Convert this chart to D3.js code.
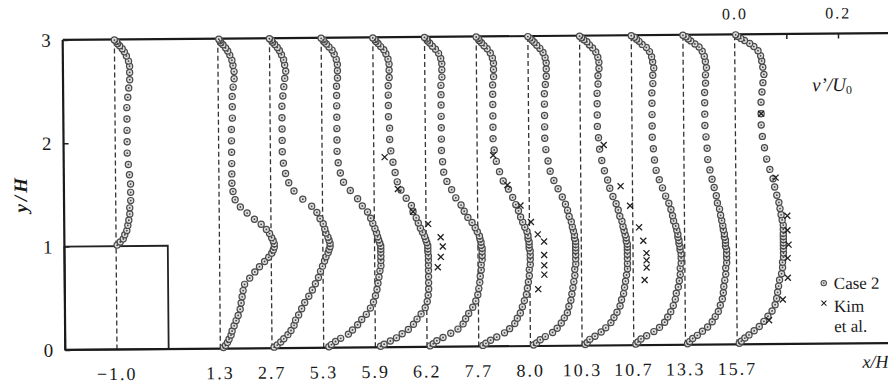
<!DOCTYPE html>
<html>
<head>
<meta charset="utf-8">
<script src="https://cdn.jsdelivr.net/npm/d3@7"></script>
<style>
  body { margin: 0; background: #fff; }
  svg text { font-family: "Liberation Serif", "DejaVu Serif", "Times New Roman", serif !important; fill: #1a1a1a; }
</style>
</head>
<body>
<div id="chart"></div>
<script>
// x/H stations, left to right
const stations = ["\u22121.0", "1.3", "2.7", "5.3", "5.9", "6.2", "7.7", "8.0", "10.3", "10.7", "13.3", "15.7"];

// y/H of the computed points (same for every station)
const yGrid = [0.01, 0.03, 0.06, 0.09, 0.13, 0.17, 0.22, 0.27, 0.32, 0.38, 0.44, 0.50, 0.56, 0.62, 0.68, 0.74, 0.79, 0.84,
  0.88, 0.92, 0.95, 0.98, 1.01, 1.04, 1.07, 1.11, 1.15, 1.20, 1.25, 1.31, 1.37, 1.44, 1.52, 1.60, 1.69, 1.79, 1.90, 2.01,
  2.12, 2.23, 2.34, 2.44, 2.53, 2.61, 2.68, 2.74, 2.79, 2.84, 2.88, 2.91, 2.94, 2.96, 2.98, 2.995];

// Case 2, v'/U0 at each yGrid point (null = inside the block)
const case2_m10 = [null, null, null, null, null, null, null, null, null, null, null, null, null, null, null, null, null, null, null, null, null, null,
  .002, .008, .014, .017, .021, .023, .025, .027, .027, .029, .029, .029, .027, .025, .023, .023, .023, .023, .023, .025, .027, .029, .029, .029, .027, .023, .019, .015, .010, .006, .004, 0];
const case2_13 = [.006, .010, .014, .017, .021, .023, .027, .031, .035, .039, .041, .043, .045, .048, .058, .068, .077, .087, .095, .101, .104, .106, .106, .104, .101, .097, .091, .081, .068, .054, .041, .031, .027, .025, .025, .025, .025, .025, .025, .027, .027, .027, .029, .031, .031, .029, .027, .023, .019, .015, .010, .006, .004, .002];
const case2_27 = [.004, .010, .017, .023, .031, .037, .043, .046, .052, .058, .064, .072, .079, .085, .091, .095, .099, .103, .106, .110, .112, .114, .114, .112, .110, .106, .104, .101, .095, .089, .079, .062, .045, .035, .029, .025, .023, .023, .023, .023, .023, .025, .027, .029, .031, .029, .027, .023, .019, .015, .010, .006, .004, 0];
const case2_53 = [.010, .015, .023, .033, .048, .056, .066, .074, .083, .091, .097, .101, .104, .106, .108, .110, .112, .112, .112, .112, .112, .112, .110, .108, .106, .104, .101, .097, .093, .087, .077, .068, .054, .041, .035, .031, .029, .029, .029, .029, .029, .029, .029, .031, .031, .031, .029, .025, .021, .015, .010, .006, .004, 0];
const case2_59 = [.010, .017, .029, .041, .052, .064, .074, .081, .089, .097, .101, .103, .104, .104, .104, .104, .104, .104, .104, .103, .103, .103, .101, .099, .097, .093, .089, .085, .081, .075, .072, .062, .052, .045, .041, .037, .033, .031, .031, .029, .029, .029, .029, .031, .031, .031, .029, .025, .021, .015, .010, .006, .004, 0];
const case2_62 = [.006, .012, .019, .031, .046, .060, .070, .075, .081, .089, .095, .099, .101, .103, .104, .106, .106, .108, .108, .108, .108, .106, .106, .104, .103, .099, .095, .089, .081, .074, .068, .058, .050, .041, .035, .033, .031, .031, .031, .031, .031, .031, .031, .033, .033, .033, .031, .027, .021, .015, .010, .006, .004, 0];
const case2_77 = [.008, .014, .023, .035, .050, .060, .070, .075, .081, .085, .089, .093, .095, .097, .099, .099, .101, .101, .101, .101, .099, .099, .099, .097, .097, .095, .091, .087, .083, .079, .074, .068, .060, .050, .043, .037, .033, .031, .031, .031, .031, .031, .031, .033, .033, .033, .031, .027, .021, .015, .010, .006, .004, 0];
const case2_80 = [.006, .012, .019, .029, .043, .052, .060, .066, .072, .075, .079, .081, .083, .085, .087, .087, .089, .089, .089, .089, .089, .089, .089, .087, .087, .085, .083, .081, .077, .074, .070, .064, .056, .048, .041, .037, .033, .031, .031, .031, .031, .031, .033, .035, .035, .035, .033, .029, .023, .017, .012, .008, .004, 0];
const case2_103 = [.006, .010, .015, .025, .037, .046, .056, .062, .068, .074, .077, .081, .083, .085, .087, .089, .089, .089, .089, .089, .089, .089, .087, .087, .085, .083, .081, .079, .075, .072, .068, .062, .056, .052, .046, .041, .037, .035, .033, .033, .033, .033, .035, .035, .037, .037, .035, .031, .025, .019, .014, .008, .004, 0];
const case2_107 = [.004, .008, .014, .025, .039, .050, .060, .066, .072, .077, .081, .083, .087, .089, .091, .091, .093, .093, .093, .091, .091, .089, .089, .087, .087, .085, .083, .079, .077, .074, .070, .064, .058, .052, .046, .043, .041, .039, .039, .039, .039, .039, .041, .041, .043, .041, .039, .035, .029, .021, .015, .010, .006, 0];
const case2_133 = [.004, .008, .014, .023, .033, .043, .052, .058, .064, .068, .072, .074, .075, .077, .079, .079, .081, .081, .081, .081, .079, .079, .079, .077, .077, .075, .074, .072, .070, .068, .064, .062, .058, .054, .050, .046, .045, .043, .041, .041, .041, .041, .043, .043, .045, .043, .041, .037, .031, .023, .015, .010, .006, 0];
const case2_157 = [.004, .008, .015, .023, .033, .043, .052, .060, .068, .074, .077, .079, .081, .083, .087, .089, .089, .091, .091, .091, .091, .091, .091, .091, .091, .091, .091, .089, .087, .085, .083, .079, .075, .072, .066, .060, .056, .052, .050, .050, .050, .052, .054, .056, .054, .052, .050, .045, .037, .029, .019, .012, .006, .002];

// Kim et al. (x marks)
const kimY_59 = [1.84, 1.53, 1.31, 1.19, 1.06, 0.97, 0.87, 0.77];
const kimV_59 = [.021, .046, .075, .104, .128, .132, .128, .122];
const kimY_77 = [1.85, 1.56, 1.36, 1.20, 1.08, 1.01, 0.88, 0.78, 0.69, 0.55];
const kimV_77 = [.031, .058, .083, .103, .116, .128, .128, .128, .128, .116];
const kimY_103 = [1.94, 1.54, 1.35, 1.14, 1.01, 0.89, 0.82, 0.75, 0.63];
const kimV_103 = [.045, .077, .095, .112, .120, .126, .126, .126, .122];
const kimY_157 = [2.23, 1.61, 1.24, 1.10, 0.96, 0.83, 0.64, 0.43, 0.23];
const kimV_157 = [.050, .077, .099, .099, .101, .099, .099, .089, .062];

const yTicks = [0, 1, 2, 3];
const vTicks = [0, 0.1, 0.2];

const case2 = [case2_m10, case2_13, case2_27, case2_53, case2_59, case2_62, case2_77, case2_80, case2_103, case2_107, case2_133, case2_157];
const kim = [
  { st: 4, y: kimY_59, v: kimV_59 },
  { st: 6, y: kimY_77, v: kimV_77 },
  { st: 8, y: kimY_103, v: kimV_103 },
  { st: 11, y: kimY_157, v: kimV_157 }
];

const SERIF = "'Liberation Serif', 'DejaVu Serif', serif";
const W = 888, H = 386;
const svg = d3.select("#chart").append("svg").attr("width", W).attr("height", H)
  .attr("font-family", SERIF);
// the printed figure sits slightly tilted
const g = svg.append("g").attr("transform", "rotate(-0.48 476 195)");

// one slot per station, the -1.0 station leaves one empty slot after it
const slotX = d3.scaleLinear().domain([-1, 15]).range([64, 891]);
const y = d3.scaleLinear().domain([0, 3]).range([346.5, 36.5]);
const vScale = d3.scaleLinear().domain([0, 0.1]).range([0, slotX(1) - slotX(0)]);
const slotOf = i => i === 0 ? 0 : i + 1;
const xAt = (i, v) => slotX(slotOf(i)) + vScale(v);

// dashed baselines
g.append("g").selectAll("line").data(stations).join("line")
  .attr("x1", (d, i) => xAt(i, 0)).attr("x2", (d, i) => xAt(i, 0))
  .attr("y1", y(0)).attr("y2", y(3))
  .attr("stroke", "#333").attr("stroke-width", 1.3).attr("stroke-dasharray", "5,3");

// step block
g.append("rect")
  .attr("x", slotX(-1)).attr("y", y(1))
  .attr("width", slotX(1) - slotX(-1)).attr("height", y(0) - y(1))
  .attr("fill", "none").attr("stroke", "#222").attr("stroke-width", 1.8);

// frame
const frame = g.append("g").attr("stroke", "#1a1a1a").attr("stroke-width", 2.2);
frame.append("line").attr("x1", slotX(-1)).attr("x2", 900).attr("y1", y(3)).attr("y2", y(3));
frame.append("line").attr("x1", slotX(-1)).attr("x2", 900).attr("y1", y(0)).attr("y2", y(0));
frame.append("line").attr("x1", slotX(-1)).attr("x2", slotX(-1)).attr("y1", y(0)).attr("y2", y(3));

// y axis
const yAx = g.append("g").attr("transform", `translate(${slotX(-1)},0)`)
  .call(d3.axisLeft(y).tickValues(yTicks).tickSize(-5).tickPadding(12).tickFormat(d3.format("d")));
yAx.attr("font-family", SERIF);
yAx.select(".domain").remove();
yAx.selectAll("line").attr("stroke", "#222").attr("stroke-width", 1.5);
yAx.selectAll("text").style("font-size", "19px");

// v'/U0 scale on top
const vAxisScale = d3.scaleLinear().domain([0, 0.2]).range([xAt(11, 0), xAt(11, 0.2)]);
const vAx = g.append("g").attr("transform", `translate(0,${y(3)})`)
  .call(d3.axisTop(vAxisScale).tickValues(vTicks).tickSize(-5).tickPadding(15)
    .tickFormat(d => d === 0.1 ? "" : d3.format(".1f")(d)));
vAx.attr("font-family", SERIF);
vAx.select(".domain").remove();
vAx.selectAll("line").attr("stroke", "#222").attr("stroke-width", 1.5);
vAx.selectAll("text").style("font-size", "16px").style("letter-spacing", "2px");

// station labels
g.append("g").selectAll("text").data(stations).join("text")
  .attr("x", (d, i) => xAt(i, 0)).attr("y", 377)
  .attr("text-anchor", "middle")
  .style("font-size", "18px").style("letter-spacing", "2px")
  .text(d => d);

// Case 2 circles
const pts = [];
case2.forEach((arr, i) => arr.forEach((v, k) => { if (v !== null) pts.push({ i, v, yy: yGrid[k] }); }));
const pg = g.append("g");
pg.selectAll("circle.c").data(pts).join("circle").attr("class", "c")
  .attr("cx", d => xAt(d.i, d.v)).attr("cy", d => y(d.yy)).attr("r", 3.1)
  .attr("fill", "#ddd").attr("stroke", "#4a4a4a").attr("stroke-width", 1.2);
pg.selectAll("circle.d").data(pts).join("circle").attr("class", "d")
  .attr("cx", d => xAt(d.i, d.v)).attr("cy", d => y(d.yy)).attr("r", 0.9)
  .attr("fill", "#444");

// Kim et al. crosses
const kpts = [];
kim.forEach(s => s.y.forEach((yy, k) => kpts.push({ i: s.st, v: s.v[k], yy })));
const xMark = "M-3,-3L3,3M-3,3L3,-3";
g.append("g").selectAll("path").data(kpts).join("path")
  .attr("d", xMark)
  .attr("transform", d => `translate(${xAt(d.i, d.v)},${y(d.yy)})`)
  .attr("fill", "none").attr("stroke", "#222").attr("stroke-width", 1.3);

// labels
g.append("text").attr("transform", "translate(27,190) rotate(-90)")
  .attr("text-anchor", "middle").style("font-size", "19px").style("font-style", "italic")
  .style("font-weight", "bold").style("letter-spacing", "3px").text("y/H");

const vl = g.append("text").attr("x", 813).attr("y", 94).style("font-size", "19px");
vl.append("tspan").style("font-style", "italic").text("v\u2019/U");
vl.append("tspan").attr("dy", 3).style("font-size", "12px").text("0");

g.append("text").attr("x", 887).attr("y", 371).attr("text-anchor", "end")
  .style("font-size", "18px").style("font-style", "italic").text("x/H");

// legend
const lg = g.append("g").attr("transform", "translate(823,286)");
lg.append("circle").attr("r", 2.7).attr("fill", "#ddd").attr("stroke", "#444").attr("stroke-width", 1);
lg.append("circle").attr("r", 0.8).attr("fill", "#444");
lg.append("text").attr("x", 10).attr("y", 6).style("font-size", "17px").text("Case 2");
lg.append("path").attr("d", "M-2.5,-2.5L2.5,2.5M-2.5,2.5L2.5,-2.5").attr("transform", "translate(0,20)")
  .attr("fill", "none").attr("stroke", "#222").attr("stroke-width", 1.1);
lg.append("text").attr("x", 10).attr("y", 29).style("font-size", "17px").text("Kim");
lg.append("text").attr("x", 10).attr("y", 49).style("font-size", "17px").text("et al.");
</script>
</body>
</html>
